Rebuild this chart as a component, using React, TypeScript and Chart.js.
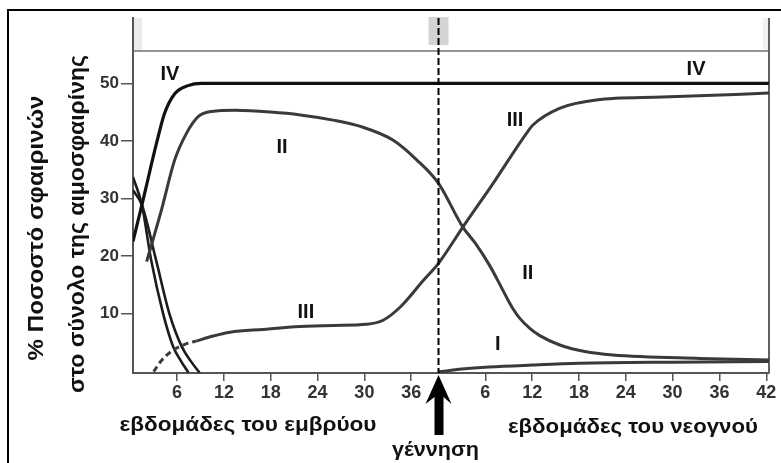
import React, { useEffect, useRef } from "react";
import { Chart, registerables } from "chart.js";

Chart.register(...registerables);

// Horizontal axis: weeks since conception; newborn weeks are counted from birth.
const BIRTH_WEEK = 39.5;
const X_MIN = 0.35;
const X_MAX = 81.85;
const Y_MIN = -0.38;
const Y_MAX = 61.36;
const TOP_RULE = 55.6;

const fetalTicks = [6, 12, 18, 24, 30, 36];
const newbornTicks = [6, 12, 18, 24, 30, 36, 42];
const yTicks = [10, 20, 30, 40, 50];

// [week, %] — fetal weeks
const chainIVFetal = [[0.35, 22.5], [1.64, 29.7], [3.35, 39.5], [4.4, 44.8], [5.7, 48.2], [7.4, 49.6], [9.1, 50], [20, 50], [39.5, 50]];
const chainIIFetal = [[2.1, 19], [4.0, 28], [5.7, 36.7], [7.2, 41.3], [8.7, 44.2], [10.4, 45.1], [13.5, 45.3], [18, 45.0], [21.8, 44.5], [26, 43.6], [29.5, 42.5], [33.7, 40.1], [36.7, 36.7], [39.5, 32.6]];
const chainIIIFetal = [[3.0, -0.15], [4.0, 1.8], [5.5, 3.6], [7.0, 4.6], [8.5, 5.2], [10.5, 6.0], [12.8, 6.7], [17, 7.2], [21.8, 7.7], [26, 7.9], [30.3, 8.1], [32.4, 8.8], [34.6, 11.1], [37.6, 15.8], [39.5, 18.7]];
const embryonicA = [[0.35, 33.7], [1.5, 28.8], [2.67, 19.3], [4.2, 10], [5.5, 4.2], [6.5, 1.7], [7.45, -0.3]];
const embryonicB = [[0.35, 31.4], [1.5, 28.8], [3.3, 19.3], [5.0, 10], [6.6, 4.2], [7.8, 1.6], [8.86, -0.3]];

// [week after birth, %]
const chainIVNewborn = [[42.4, 50]];
const chainIINewborn = [[3.12, 25.0], [4.78, 22.07], [6.58, 18.25], [7.86, 15.03], [8.76, 12.68], [9.52, 10.85], [10.42, 9.12], [11.7, 7.38], [12.98, 6.12], [15.54, 4.49], [18.75, 3.36], [22.33, 2.77], [33.47, 2.16], [42.4, 1.88]];
const chainIIINewborn = [[3.12, 25.0], [7.0, 32.6], [11.27, 41.3], [12.1, 42.75], [15.5, 45.65], [20.2, 47.1], [28.7, 47.6], [42.4, 48.3]];
const chainINewborn = [[0, -0.2], [3, 0.3], [6.5, 0.66], [12, 1.0], [18, 1.3], [30, 1.5], [42.4, 1.6]];

// Roman-numeral curve names: [text, week, %, after birth?]
const curveNames: [string, number, number, boolean][] = [
  ["IV", 5.09, 51.6, false],
  ["II", 19.44, 38.9, false],
  ["III", 22.5, 10.2, false],
  ["IV", 33.0, 52.4, true],
  ["III", 9.8, 43.45, true],
  ["II", 11.45, 17.0, true],
  ["I", 7.6, 4.66, true],
];

const DASH_UNTIL_WEEK = 8.5;

const FONT = "'Liberation Sans', Arial, sans-serif";

const toPoints = (fetal: number[][], newborn: number[][]) => [
  ...fetal.map(([w, v]) => ({ x: w, y: v })),
  ...newborn.map(([t, v]) => ({ x: BIRTH_WEEK + t, y: v })),
];

const xTickValues = [...fetalTicks, ...newbornTicks.map((t) => BIRTH_WEEK + t)];
const xTickLabels = [...fetalTicks, ...newbornTicks].map(String);

function fitText(ctx: CanvasRenderingContext2D, text: string, width: number) {
  const w = ctx.measureText(text).width;
  const s = width / w;
  ctx.scale(s, 1);
  ctx.fillText(text, 0, 0);
}

const decor = {
  id: "decor",
  beforeDatasetsDraw(chart: any) {
    const { ctx, chartArea, scales } = chart;
    const { left, right, top, bottom } = chartArea;
    const ruleY = scales.y.getPixelForValue(TOP_RULE);
    const bx = scales.x.getPixelForValue(BIRTH_WEEK);
    ctx.save();
    ctx.fillStyle = "#ececec";
    ctx.fillRect(left + 1, top, 8, ruleY - top);
    ctx.fillStyle = "#f2f2f2";
    ctx.fillRect(right - 6, top, 5, ruleY - top);
    ctx.fillStyle = "#d4d4d4";
    ctx.fillRect(bx - 10, top - 1, 20, 28);
    ctx.strokeStyle = "#707070";
    ctx.lineWidth = 1.5;
    ctx.beginPath();
    ctx.moveTo(left, ruleY);
    ctx.lineTo(right, ruleY);
    ctx.stroke();
    ctx.strokeStyle = "#606060";
    ctx.lineWidth = 2;
    ctx.beginPath();
    ctx.moveTo(right, top);
    ctx.lineTo(right, bottom);
    ctx.stroke();
    ctx.restore();
  },
  afterDatasetsDraw(chart: any) {
    const { ctx, chartArea, scales } = chart;
    const { top, bottom } = chartArea;
    const bx = scales.x.getPixelForValue(BIRTH_WEEK);
    ctx.save();
    ctx.strokeStyle = "#000";
    ctx.lineWidth = 2;
    ctx.setLineDash([7, 3]);
    ctx.beginPath();
    ctx.moveTo(bx, top);
    ctx.lineTo(bx, bottom);
    ctx.stroke();
    ctx.setLineDash([]);

    ctx.fillStyle = "#111";
    ctx.font = `bold 20px ${FONT}`;
    ctx.textAlign = "center";
    ctx.textBaseline = "middle";
    for (const [text, w, v, after] of curveNames) {
      const px = scales.x.getPixelForValue(after ? BIRTH_WEEK + w : w);
      const py = scales.y.getPixelForValue(v);
      ctx.fillText(text, px, py);
    }
    ctx.restore();
  },
  afterDraw(chart: any) {
    const { ctx, scales, width, height } = chart;
    const bx = scales.x.getPixelForValue(BIRTH_WEEK);
    ctx.save();
    // birth arrow
    ctx.fillStyle = "#000";
    ctx.beginPath();
    ctx.moveTo(bx, 375);
    ctx.lineTo(bx + 13, 404);
    ctx.lineTo(bx + 5, 397);
    ctx.lineTo(bx + 5, 435);
    ctx.lineTo(bx - 4, 435);
    ctx.lineTo(bx - 4, 397);
    ctx.lineTo(bx - 13, 404);
    ctx.closePath();
    ctx.fill();

    ctx.fillStyle = "#111";
    ctx.textAlign = "center";
    ctx.textBaseline = "alphabetic";
    ctx.font = `bold 21px ${FONT}`;
    ctx.save();
    ctx.translate(248, 431);
    fitText(ctx, "εβδομάδες του εμβρύου", 257);
    ctx.restore();
    ctx.save();
    ctx.translate(633, 433);
    fitText(ctx, "εβδομάδες του νεογνού", 250);
    ctx.restore();
    ctx.save();
    ctx.translate(bx - 3, 456);
    fitText(ctx, "γέννηση", 87);
    ctx.restore();

    // vertical axis title, two lines
    ctx.font = `bold 22px ${FONT}`;
    ctx.textBaseline = "middle";
    ctx.save();
    ctx.translate(37, 228);
    ctx.rotate(-Math.PI / 2);
    fitText(ctx, "% Ποσοστό σφαιρινών", 265);
    ctx.restore();
    ctx.save();
    ctx.translate(78, 224);
    ctx.rotate(-Math.PI / 2);
    fitText(ctx, "στο σύνολο της αιμοσφαιρίνης", 338);
    ctx.restore();

    // outer frame
    ctx.strokeStyle = "#000";
    ctx.lineWidth = 2;
    ctx.beginPath();
    ctx.moveTo(8, height);
    ctx.lineTo(8, 10);
    ctx.lineTo(width, 10);
    ctx.stroke();
    ctx.restore();
  },
};

const curve = (data: { x: number; y: number }[], color: string, width: number, extra: any = {}) => ({
  data,
  showLine: true,
  borderColor: color,
  borderWidth: width,
  pointRadius: 0,
  fill: false,
  cubicInterpolationMode: "monotone",
  ...extra,
});

export default function App() {
  const ref = useRef<HTMLCanvasElement>(null);

  useEffect(() => {
    const canvas = ref.current;
    if (!canvas) return;
    const tickFont = { family: FONT, weight: "bold" as const };
    const chart = new Chart(canvas, {
      type: "scatter",
      data: {
        datasets: [
          curve(toPoints(chainIVFetal, chainIVNewborn), "#111", 3.2),
          curve(toPoints(chainIIFetal, chainIINewborn), "#3a3a3a", 3),
          curve(toPoints(chainIIIFetal, chainIIINewborn), "#3a3a3a", 3, {
            segment: {
              borderDash: (c: any) => (c.p0.parsed.x < DASH_UNTIL_WEEK ? [6, 4] : undefined),
            },
          }),
          curve(toPoints([], chainINewborn), "#3a3a3a", 3),
          curve(toPoints(embryonicA, []), "#1c1c1c", 2.6),
          curve(toPoints(embryonicB, []), "#1c1c1c", 2.6),
        ] as any,
      },
      options: {
        responsive: false,
        animation: false,
        events: [],
        layout: { padding: { top: 18, right: 12, left: 0, bottom: 0 } },
        plugins: { legend: { display: false }, tooltip: { enabled: false } },
        scales: {
          x: {
            type: "linear",
            min: X_MIN,
            max: X_MAX,
            afterBuildTicks: (s: any) => {
              s.ticks = xTickValues.map((value) => ({ value }));
            },
            afterFit: (s: any) => {
              s.height = 90;
            },
            ticks: {
              autoSkip: false,
              maxRotation: 0,
              padding: 1,
              color: "#333",
              font: { ...tickFont, size: 18 },
              callback: (_v: any, i: number) => xTickLabels[i],
            },
            grid: { drawOnChartArea: false, tickLength: 8, color: "#555", lineWidth: 1.5 },
            border: { display: true, color: "#555", width: 2 },
          },
          y: {
            type: "linear",
            min: Y_MIN,
            max: Y_MAX,
            afterBuildTicks: (s: any) => {
              s.ticks = yTicks.map((value) => ({ value }));
            },
            afterFit: (s: any) => {
              s.width = 133;
            },
            ticks: {
              padding: 2,
              color: "#333",
              font: { ...tickFont, size: 17 },
              callback: (v: any) => String(v),
            },
            grid: { drawOnChartArea: false, tickLength: 12, color: "#555", lineWidth: 1.5 },
            border: { display: true, color: "#555", width: 2 },
          },
        },
      },
      plugins: [decor],
    });
    return () => chart.destroy();
  }, []);

  return (
    <div style={{ position: "fixed", left: 0, top: 0, width: 781, height: 463, background: "#fff" }}>
      <canvas ref={ref} width={781} height={463} style={{ display: "block", width: 781, height: 463 }} />
    </div>
  );
}
